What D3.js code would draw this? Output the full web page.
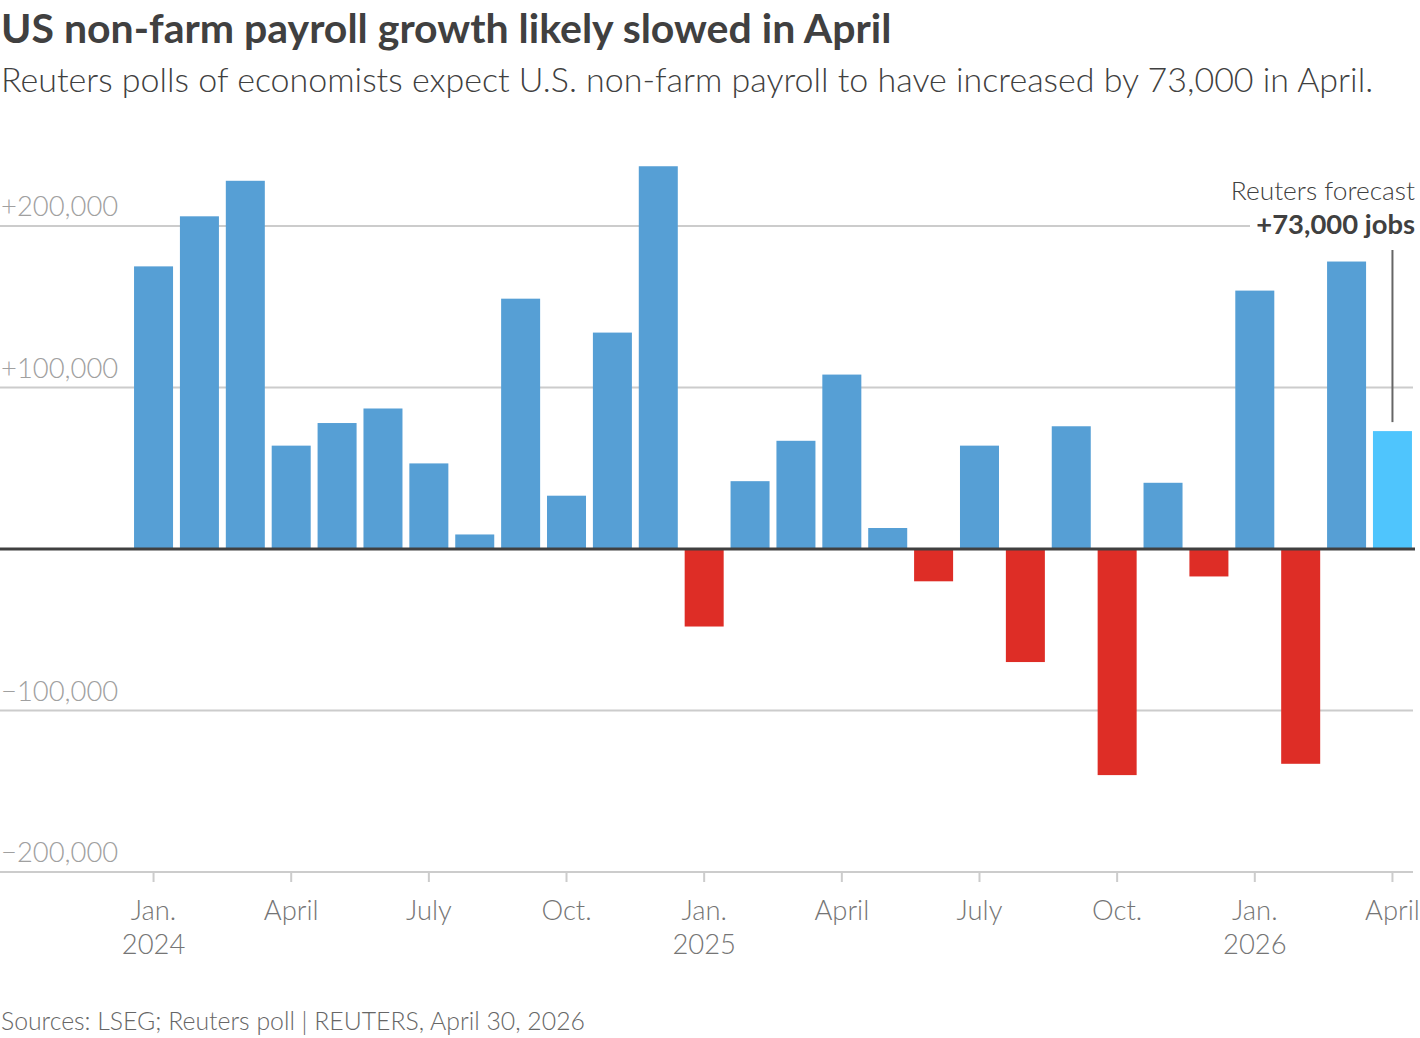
<!DOCTYPE html>
<html>
<head>
<meta charset="utf-8">
<script src="https://cdn.jsdelivr.net/npm/d3@7"></script>
<style>
  html, body { margin: 0; padding: 0; background: #fff; }
  svg { display: block; font-family: Lato, "Noto Sans", sans-serif; }
</style>
</head>
<body>
<svg id="chart" width="1420" height="1038"></svg>
<script>
const months = [
  "2024-01","2024-02","2024-03","2024-04","2024-05","2024-06","2024-07","2024-08","2024-09","2024-10","2024-11","2024-12",
  "2025-01","2025-02","2025-03","2025-04","2025-05","2025-06","2025-07","2025-08","2025-09","2025-10","2025-11","2025-12",
  "2026-01","2026-02","2026-03","2026-04"
];
const payrolls = [
  175000, 206000, 228000, 64000, 78000, 87000, 53000, 9000, 155000, 33000, 134000, 237000,
  -48000, 42000, 67000, 108000, 13000, -20000, 64000, -70000, 76000, -140000, 41000, -17000,
  160000, -133000, 178000, 73000
];
const forecastMonth = "2026-04";
const yTicks = [200000, 100000, -100000, -200000];
const yTickLabels = ["+200,000", "+100,000", "\u2212100,000", "\u2212200,000"];
const xTickMonths = ["2024-01","2024-04","2024-07","2024-10","2025-01","2025-04","2025-07","2025-10","2026-01","2026-04"];
const xTickLabels = [["Jan.","2024"],["April"],["July"],["Oct."],["Jan.","2025"],["April"],["July"],["Oct."],["Jan.","2026"],["April"]];

const data = months.map((m, i) => ({ month: m, value: payrolls[i] }));

const svg = d3.select("#chart");

const x = d3.scaleBand().domain(months).range([130.6, 1415.4]).paddingInner(0.15).paddingOuter(0.075);
const y = d3.scaleLinear().domain([-200000, 200000]).range([872, 226]);

// Title
svg.append("text").attr("x", 1).attr("y", 43)
  .attr("font-size", 41).attr("font-weight", 700).attr("fill", "#404040")
  .text("US non-farm payroll growth likely slowed in April");
svg.append("text").attr("x", 1).attr("y", 92)
  .attr("font-size", 34).attr("font-weight", 300).attr("fill", "#404040")
  .text("Reuters polls of economists expect U.S. non-farm payroll to have increased by 73,000 in April.");

// Gridlines
const grid = svg.append("g");
yTicks.forEach((t, i) => {
  const x2 = t === 200000 ? 1250 : 1413;
  grid.append("line").attr("x1", 0).attr("x2", x2)
    .attr("y1", y(t)).attr("y2", y(t))
    .attr("stroke", "#cccccc").attr("stroke-width", 2);
  grid.append("text").attr("x", 1).attr("y", y(t) - 10)
    .attr("font-size", 27.4).attr("font-weight", 300).attr("fill", "#a0a0a0")
    .text(yTickLabels[i]);
});

// Bars
svg.append("g").selectAll("rect").data(data).join("rect")
  .attr("x", d => x(d.month))
  .attr("width", x.bandwidth())
  .attr("y", d => y(Math.max(0, d.value)))
  .attr("height", d => Math.abs(y(d.value) - y(0)))
  .attr("fill", d => d.month === forecastMonth ? "#4fc5fd" : (d.value < 0 ? "#de2d26" : "#569fd5"));

// Zero line
svg.append("line").attr("x1", 0).attr("x2", 1415).attr("y1", y(0)).attr("y2", y(0))
  .attr("stroke", "#404040").attr("stroke-width", 3);

// X ticks
const xt = svg.append("g");
xTickMonths.forEach((m, i) => {
  const cx = x(m) + x.bandwidth() / 2;
  xt.append("line").attr("x1", cx).attr("x2", cx).attr("y1", y(-200000)).attr("y2", y(-200000) + 10)
    .attr("stroke", "#cccccc").attr("stroke-width", 2);
  xTickLabels[i].forEach((s, j) => {
    xt.append("text").attr("x", cx).attr("y", 920 + j * 34)
      .attr("text-anchor", "middle").attr("font-size", 27.4).attr("font-weight", 300).attr("fill", "#757575")
      .text(s);
  });
});

// Annotation
const fx = x(forecastMonth) + x.bandwidth() / 2;
svg.append("line").attr("x1", fx).attr("x2", fx).attr("y1", 250).attr("y2", y(payrolls[payrolls.length - 1]) - 9)
  .attr("stroke", "#666666").attr("stroke-width", 2);
svg.append("text").attr("x", 1415).attr("y", 200).attr("text-anchor", "end")
  .attr("font-size", 26.3).attr("font-weight", 300).attr("fill", "#404040").text("Reuters forecast");
svg.append("text").attr("x", 1415).attr("y", 234).attr("text-anchor", "end")
  .attr("font-size", 27.4).attr("font-weight", 700).attr("fill", "#404040").text("+73,000 jobs");

// Footer
svg.append("text").attr("x", 1).attr("y", 1030)
  .attr("font-size", 24.8).attr("font-weight", 300).attr("fill", "#666666")
  .text("Sources: LSEG; Reuters poll | REUTERS, April 30, 2026");
</script>
</body>
</html>
